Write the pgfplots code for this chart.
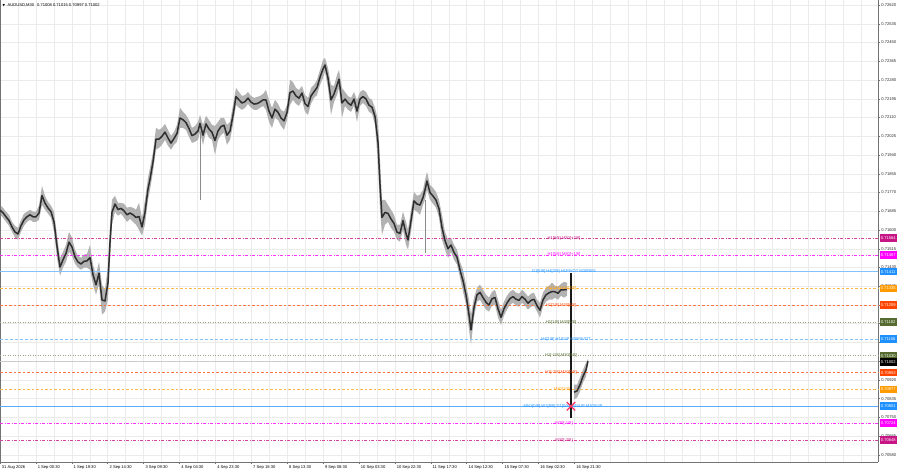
\documentclass[border=0pt]{standalone}
\usepackage{pgfplots}
\pgfplotsset{compat=1.18}
\usepackage{pgfplotstable}
\usepgfplotslibrary{fillbetween}
\usepackage{fontspec}
\setmainfont{Liberation Sans}
\newfontfamily\dejavu{DejaVu Sans}
\definecolor{mvr}{HTML}{C71585}
\definecolor{mag}{HTML}{FF00FF}
\definecolor{dblue}{HTML}{1E90FF}
\definecolor{orng}{HTML}{FF9A00}
\definecolor{ored}{HTML}{FF4500}
\definecolor{olv}{HTML}{556B2F}
\definecolor{xred}{HTML}{FF3060}
\newcommand\fnt{\fontsize{4.1}{5}\selectfont}

\pgfplotstableread{
x hi lo
0 0.71714 0.71669
3 0.71701 0.71656
6 0.71683 0.71637
9 0.71669 0.71619
12 0.71637 0.71592
15 0.71619 0.71565
18 0.71610 0.71556
21 0.71646 0.71592
24 0.71674 0.71619
27 0.71683 0.71637
30 0.71692 0.71646
33 0.71683 0.71637
36 0.71683 0.71637
39 0.71710 0.71646
42 0.71800 0.71714
45 0.71755 0.71692
48 0.71728 0.71674
51 0.71710 0.71656
54 0.71683 0.71592
57 0.71578 0.71474
60 0.71474 0.71393
63 0.71501 0.71429
66 0.71533 0.71456
69 0.71592 0.71501
72 0.71565 0.71483
75 0.71511 0.71447
78 0.71483 0.71429
81 0.71474 0.71420
84 0.71488 0.71429
87 0.71492 0.71429
90 0.71533 0.71420
93 0.71443 0.71352
96 0.71397 0.71307
99 0.71456 0.71352
102 0.71352 0.71216
105 0.71329 0.71230
108 0.71443 0.71284
110 0.71624 0.71465
112 0.71737 0.71624
115 0.71755 0.71683
118 0.71723 0.71665
121 0.71723 0.71674
124 0.71719 0.71656
127 0.71701 0.71637
130 0.71705 0.71651
133 0.71701 0.71637
136 0.71692 0.71624
139 0.71723 0.71601
142 0.71656 0.71574
145 0.71737 0.71624
148 0.71837 0.71737
150 0.71882 0.71782
153 0.71954 0.71864
156 0.72063 0.71964
159 0.72054 0.71973
162 0.72063 0.71986
165 0.72081 0.72009
168 0.72054 0.71982
171 0.72027 0.71964
174 0.72045 0.71986
177 0.72077 0.72000
180 0.72154 0.72063
183 0.72136 0.72063
186 0.72122 0.72054
189 0.72099 0.72022
192 0.72063 0.71995
195 0.72072 0.72000
198 0.72090 0.72009
200 0.72122 0.72045
203 0.72077 0.71986
206 0.72118 0.72045
209 0.72099 0.72018
212 0.72077 0.72009
215 0.72072 0.71941
218 0.72090 0.72009
221 0.72109 0.72031
224 0.72109 0.72041
227 0.72077 0.71986
230 0.72090 0.72009
233 0.72167 0.72077
236 0.72244 0.72167
239 0.72226 0.72154
242 0.72208 0.72145
245 0.72212 0.72154
248 0.72226 0.72172
251 0.72208 0.72154
254 0.72199 0.72145
257 0.72203 0.72145
260 0.72208 0.72154
263 0.72217 0.72163
266 0.72235 0.72145
269 0.72190 0.72090
272 0.72154 0.72063
275 0.72190 0.72109
278 0.72172 0.72099
281 0.72145 0.72072
284 0.72136 0.72054
287 0.72167 0.72099
290 0.72281 0.72167
293 0.72271 0.72190
296 0.72244 0.72172
299 0.72235 0.72163
302 0.72253 0.72190
305 0.72212 0.72136
308 0.72199 0.72122
311 0.72244 0.72172
314 0.72258 0.72199
317 0.72281 0.72212
320 0.72326 0.72258
323 0.72371 0.72289
325 0.72380 0.72317
328 0.72335 0.72244
331 0.72258 0.72122
334 0.72253 0.72181
337 0.72303 0.72212
339 0.72326 0.72244
342 0.72244 0.72109
345 0.72226 0.72163
348 0.72208 0.72145
351 0.72199 0.72136
354 0.72226 0.72163
357 0.72190 0.72090
360 0.72226 0.72163
363 0.72235 0.72176
366 0.72226 0.72163
369 0.72199 0.72136
372 0.72190 0.72127
375 0.72154 0.72077
378 0.72099 0.71896
380 0.71918 0.71692
382 0.71737 0.71578
385 0.71737 0.71624
388 0.71714 0.71637
391 0.71692 0.71610
394 0.71669 0.71592
397 0.71624 0.71556
400 0.71624 0.71547
403 0.71683 0.71601
406 0.71637 0.71533
408 0.71601 0.71511
411 0.71692 0.71592
414 0.71773 0.71692
417 0.71755 0.71683
420 0.71760 0.71669
423 0.71782 0.71714
425 0.71828 0.71737
427 0.71864 0.71782
430 0.71805 0.71737
433 0.71791 0.71719
436 0.71773 0.71701
439 0.71737 0.71656
442 0.71669 0.71556
445 0.71592 0.71511
448 0.71556 0.71474
451 0.71565 0.71501
454 0.71533 0.71465
457 0.71511 0.71443
460 0.71456 0.71384
463 0.71420 0.71320
466 0.71352 0.71261
469 0.71284 0.71148
471 0.71216 0.71080
474 0.71293 0.71203
477 0.71338 0.71275
480 0.71352 0.71284
483 0.71329 0.71261
486 0.71307 0.71239
489 0.71293 0.71230
492 0.71320 0.71257
495 0.71329 0.71261
498 0.71284 0.71203
501 0.71239 0.71170
504 0.71275 0.71212
507 0.71302 0.71239
510 0.71320 0.71261
513 0.71329 0.71270
516 0.71316 0.71257
519 0.71311 0.71252
522 0.71329 0.71270
525 0.71316 0.71257
528 0.71298 0.71239
531 0.71311 0.71252
534 0.71316 0.71257
537 0.71284 0.71230
540 0.71270 0.71203
543 0.71316 0.71252
546 0.71338 0.71275
549 0.71347 0.71284
552 0.71361 0.71284
555 0.71347 0.71293
558 0.71343 0.71284
561 0.71356 0.71302
564 0.71365 0.71293
567 0.71361 0.71302
}\segA

\pgfplotstableread{
x hi lo
574 0.70899 0.70831
577 0.70899 0.70840
580 0.70931 0.70867
583 0.70967 0.70908
586 0.70998 0.70935
588 0.71015 0.70997
}\segB

\begin{document}
\begin{tikzpicture}
\begin{axis}[
  at={(0,0)}, anchor=south west,
  scale only axis, width=878pt, height=462pt,
  xmin=0, xmax=878, ymin=0.70548, ymax=0.72643,
  clip=false,
  axis x line*=bottom, axis y line*=right,
  axis line style={draw=black!55, line width=0.6pt},
  tick align=outside, major tick length=2pt, minor tick length=0pt,
  tick style={black!55, line width=0.5pt},
  xtick={0,35.9,71.8,107.7,143.6,179.5,215.4,251.3,287.2,323.1,359,394.9,430.8,466.7,502.6,538.5,574.4},
  xticklabels={31 Aug 2026,1 Sep 00:30,1 Sep 19:30,2 Sep 14:30,3 Sep 09:30,4 Sep 04:30,4 Sep 23:30,7 Sep 18:30,8 Sep 13:30,9 Sep 08:30,10 Sep 03:30,10 Sep 22:30,11 Sep 17:30,14 Sep 12:30,15 Sep 07:30,16 Sep 02:30,16 Sep 21:30},
  xticklabel style={font=\fnt, anchor=north west, xshift=0.5pt, inner sep=1.2pt},
  minor xtick={0,17.95,...,878},
  xminorgrids,
  ytick={0.70580,0.70665,0.70750,0.70835,0.70920,0.71005,0.71090,0.71175,0.71260,0.71345,0.71430,0.71515,0.71600,0.71685,0.71770,0.71855,0.71940,0.72025,0.72110,0.72195,0.72280,0.72365,0.72450,0.72535,0.72620},
  yticklabels={0.70580,0.70665,0.70750,0.70835,0.70920,0.71005,0.71090,0.71175,0.71260,0.71345,0.71430,0.71515,0.71600,0.71685,0.71770,0.71855,0.71940,0.72025,0.72110,0.72195,0.72280,0.72365,0.72450,0.72535,0.72620},
  yticklabel style={font=\fnt, text=black!85, inner sep=1.2pt},
  ymajorgrids,
  grid style={black!8, line width=0.5pt},
  minor grid style={black!8, line width=0.5pt},
]
% left border
\draw[black!55, line width=0.6pt] (rel axis cs:0,0) -- (rel axis cs:0,1);

% Murrey lines
\addplot[mvr!80, line width=0.6pt, dash pattern=on 3pt off 1.5pt on 1pt off 1.5pt] coordinates {(0,0.71564)(878,0.71564)};
\addplot[mag!80, line width=0.6pt, dash pattern=on 3pt off 1.5pt on 1pt off 1.5pt] coordinates {(0,0.71487)(878,0.71487)};
\addplot[dblue!55, line width=0.6pt] coordinates {(0,0.71411)(878,0.71411)};
\addplot[orng!70, line width=0.6pt, dash pattern=on 2.5pt off 2pt] coordinates {(0,0.71335)(878,0.71335)};
\addplot[ored!75, line width=0.6pt, dash pattern=on 2.5pt off 2pt] coordinates {(0,0.71259)(878,0.71259)};
\addplot[olv!60, line width=0.7pt, dash pattern=on 1pt off 1.5pt] coordinates {(0,0.71182)(878,0.71182)};
\addplot[dblue!55, line width=0.6pt, dash pattern=on 3pt off 2pt] coordinates {(0,0.71106)(878,0.71106)};
\addplot[olv!60, line width=0.7pt, dash pattern=on 1pt off 1.5pt] coordinates {(0,0.71030)(878,0.71030)};
\addplot[black!20, line width=1.2pt] coordinates {(0,0.71002)(878,0.71002)};
\addplot[ored!75, line width=0.6pt, dash pattern=on 2.5pt off 2pt] coordinates {(0,0.70953)(878,0.70953)};
\addplot[orng!70, line width=0.6pt, dash pattern=on 2.5pt off 2pt] coordinates {(0,0.70877)(878,0.70877)};
\addplot[dblue!75, line width=1pt] coordinates {(0,0.70801)(878,0.70801)};
\addplot[mag!80, line width=0.6pt, dash pattern=on 3pt off 1.5pt on 1pt off 1.5pt] coordinates {(0,0.70724)(878,0.70724)};
\addplot[mvr!80, line width=0.6pt, dash pattern=on 3pt off 1.5pt on 1pt off 1.5pt] coordinates {(0,0.70648)(878,0.70648)};

% price series: high-low range (wicks) and body line
\addplot[name path=hA, draw=none] table[x=x,y=hi]{\segA};
\addplot[name path=lA, draw=none] table[x=x,y=lo]{\segA};
\addplot[black!30] fill between[of=hA and lA];
\addplot[name path=hB, draw=none] table[x=x,y=hi]{\segB};
\addplot[name path=lB, draw=none] table[x=x,y=lo]{\segB};
\addplot[black!30] fill between[of=hB and lB];
\addplot[black!82, line width=1.5pt, line join=round] table[x=x, y expr=(\thisrow{hi}+\thisrow{lo})/2]{\segA};
\addplot[black!82, line width=1.5pt, line join=round] table[x=x, y expr=(\thisrow{hi}+\thisrow{lo})/2]{\segB};
\addplot[black!45, line width=0.7pt] coordinates {(200,0.72045)(200,0.71737)};
\addplot[black!45, line width=0.7pt] coordinates {(425,0.71737)(425,0.71497)};
\addplot[black!90, line width=1.8pt] coordinates {(571,0.71406)(571,0.70749)};

% labels
\node[font=\fnt, text=mvr] at (axis cs:564,0.71564) {H1[6/8] M30[+2/8]};
\node[font=\fnt, text=mag] at (axis cs:564,0.71487) {H1[5/8] M30[+1/8]};
\node[font=\fnt, text=dblue] at (axis cs:564,0.71411) {D1[5/8] H4[2/8] H1PIVOT M30RES};
\node[font=\fnt, text=orng] at (axis cs:561,0.71335) {H1[3/8] M30[7/8]};
\node[font=\fnt, text=ored] at (axis cs:561,0.71259) {H1[2/8] M30[6/8]};
\node[font=\fnt, text=olv] at (axis cs:561,0.71182) {H1[1/8] M30[5/8]};
\node[font=\fnt, text=dblue] at (axis cs:566,0.71106) {H4[1/8] H1SUP M30PIVOT};
\node[font=\fnt, text=olv] at (axis cs:561,0.71030) {H1[-1/8] M30[3/8]};
\node[font=\fnt, text=ored] at (axis cs:561,0.70953) {H1[-2/8] M30[2/8]};
\node[font=\fnt, text=orng] at (axis cs:562,0.70877) {M30[1/8]};
\node[font=\fnt, text=dblue] at (axis cs:563,0.70801) {MN1[0/8] W1[8/8] D1[0/8] H4SUP M30SUP};
\node[font=\fnt, text=mag] at (axis cs:564,0.70724) {M30[-1/8]};
\node[font=\fnt, text=mvr] at (axis cs:564,0.70648) {M30[-2/8]};

\addplot[only marks, mark=x, mark size=6pt, mark options={xred, line width=1.2pt}] coordinates {(571,0.70801)};

% title
\node[anchor=west, font=\fnt, inner sep=0pt] at (rel axis cs:0,1) [xshift=2.5pt, yshift=-5pt] {{\dejavu\fontsize{3.2}{4}\selectfont ▼}\hspace{2.5pt}AUDUSD,M30\hspace{3pt}0.71008 0.71015 0.70997 0.71002};

\coordinate (B12) at (axis cs:878,0.71564);
\coordinate (B11) at (axis cs:878,0.71487);
\coordinate (B10) at (axis cs:878,0.71411);
\coordinate (B9) at (axis cs:878,0.71335);
\coordinate (B8) at (axis cs:878,0.71259);
\coordinate (B7) at (axis cs:878,0.71182);
\coordinate (B6) at (axis cs:878,0.71106);
\coordinate (B5) at (axis cs:878,0.71030);
\coordinate (BC) at (axis cs:878,0.71002);
\coordinate (B4) at (axis cs:878,0.70953);
\coordinate (B3) at (axis cs:878,0.70877);
\coordinate (B2) at (axis cs:878,0.70801);
\coordinate (B1) at (axis cs:878,0.70724);
\coordinate (B0) at (axis cs:878,0.70648);
\end{axis}
\tikzset{pbox/.style={anchor=west, font=\fnt, text=white, inner xsep=1.2pt, inner ysep=0pt, minimum height=7.5pt}}
\node[pbox, fill=mvr] at ([xshift=1.5pt]B12) {0.71564};
\node[pbox, fill=mag] at ([xshift=1.5pt]B11) {0.71487};
\node[pbox, fill=dblue] at ([xshift=1.5pt]B10) {0.71411};
\node[pbox, fill=orng] at ([xshift=1.5pt]B9) {0.71335};
\node[pbox, fill=ored] at ([xshift=1.5pt]B8) {0.71259};
\node[pbox, fill=olv] at ([xshift=1.5pt]B7) {0.71182};
\node[pbox, fill=dblue] at ([xshift=1.5pt]B6) {0.71106};
\node[pbox, fill=olv] at ([xshift=1.5pt]B5) {0.71030};
\node[pbox, fill=black] at ([xshift=1.5pt]BC) {0.71002};
\node[pbox, fill=ored] at ([xshift=1.5pt]B4) {0.70953};
\node[pbox, fill=orng] at ([xshift=1.5pt]B3) {0.70877};
\node[pbox, fill=dblue] at ([xshift=1.5pt]B2) {0.70801};
\node[pbox, fill=mag] at ([xshift=1.5pt]B1) {0.70724};
\node[pbox, fill=mvr] at ([xshift=1.5pt]B0) {0.70648};
\pgfresetboundingbox
\path (0pt,-12pt) rectangle (900pt,462pt);
\end{tikzpicture}
\end{document}
